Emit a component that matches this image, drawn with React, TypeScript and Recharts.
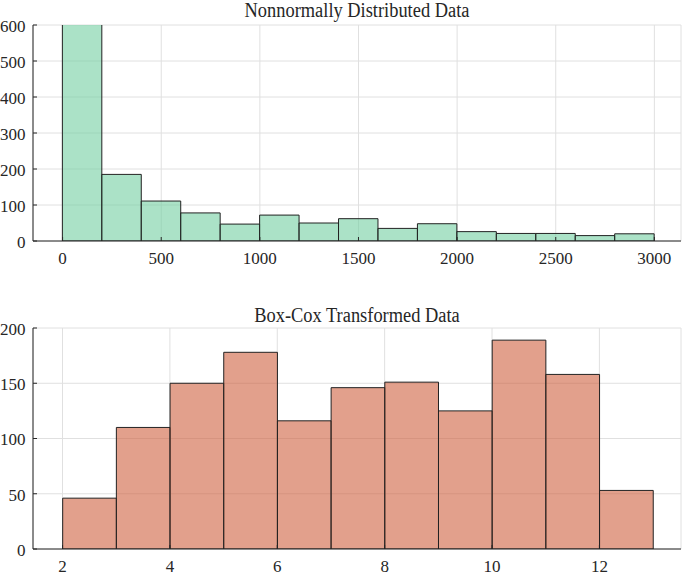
import { BarChart, Bar, XAxis, YAxis, CartesianGrid, Rectangle } from "recharts";

// raw histogram bins (left edge + count)
const rawEdges = [0, 200, 400, 600, 800, 1000, 1200, 1400, 1600, 1800, 2000, 2200, 2400, 2600, 2800];
const rawCounts = [640, 185, 111, 78, 47, 72, 50, 62, 35, 48, 26, 21, 21, 15, 20];
const rawTicksX = [0, 500, 1000, 1500, 2000, 2500, 3000];
const rawTicksY = [0, 100, 200, 300, 400, 500, 600];

const bcEdges = [2, 3, 4, 5, 6, 7, 8, 9, 10, 11, 12];
const bcCounts = [46, 110, 150, 178, 116, 146, 151, 125, 189, 158, 53];
const bcTicksX = [2, 4, 6, 8, 10, 12];
const bcTicksY = [0, 50, 100, 150, 200];

const rawData = rawEdges.map((e, i) => ({ mid: e + 100, count: rawCounts[i] }));
const bcData = bcEdges.map((e, i) => ({ mid: e + 0.5, count: bcCounts[i] }));

const FONT = '"Liberation Serif", "Times New Roman", serif';
const INK = "#262626";
const PLOT_W = 648;
const txt = { fontFamily: FONT, fontSize: 17, fill: INK };

const XTick = ({ x, y, payload }: any) => (
  <text x={x} y={y} dy="0.71em" textAnchor="middle" style={txt}>{payload.value}</text>
);
const YTick = ({ x, y, payload }: any) => (
  <text x={x} y={y + 1} dy="0.35em" textAnchor="end" style={txt}>{payload.value}</text>
);

function Hist({ data, domainX, binW, ticksX, ticksY, domainY, fill, title, top, height, marginTop, xHeight, titleTop }: any) {
  const barSize = (binW * PLOT_W) / (domainX[1] - domainX[0]);
  const shape = (p: any) => (
    <Rectangle {...p} x={p.x + p.width / 2 - barSize / 2} width={barSize} />
  );
  return (
    <div style={{ position: "absolute", left: 0, top, width: 685, height, fontFamily: FONT }}>
      <BarChart width={685} height={height} data={data} margin={{ top: marginTop, right: 4, left: 0, bottom: 0 }}
        barGap={0} barCategoryGap={0}>
        <CartesianGrid stroke="#e0e0e0" />
        <XAxis dataKey="mid" type="number" domain={domainX} ticks={ticksX} allowDataOverflow height={xHeight}
          tick={<XTick />} tickSize={-4} tickMargin={15} stroke={INK} interval={0} />
        <XAxis xAxisId="top" orientation="top" type="number" domain={domainX} ticks={ticksX} allowDataOverflow height={0}
          tickFormatter={() => ""} tickSize={-4} stroke={INK} />
        <YAxis type="number" domain={domainY} ticks={ticksY} allowDataOverflow width={33}
          tick={<YTick />} tickSize={-4} tickMargin={11.5} stroke={INK} interval={0} />
        <YAxis yAxisId="r" orientation="right" type="number" domain={domainY} ticks={ticksY} width={0}
          tickFormatter={() => ""} tickSize={-4} stroke={INK} />
        <Bar dataKey="count" fill={fill} fillOpacity={0.6} stroke="#222" strokeWidth={1} shape={shape} isAnimationActive={false} />
      </BarChart>
      <div style={{ position: "absolute", left: 33, width: PLOT_W, top: titleTop, textAlign: "center", fontSize: 20, lineHeight: "20px",
        color: INK, transform: "scaleX(0.92)", transformOrigin: "center", whiteSpace: "nowrap" }}>
        {title}
      </div>
    </div>
  );
}

export default function App() {
  return (
    <div style={{ position: "absolute", left: 0, top: 0, width: 685, height: 575, background: "#fff" }}>
      <Hist data={rawData} domainX={[-150, 3135]} binW={200} ticksX={rawTicksX} ticksY={rawTicksY} domainY={[0, 600]}
        fill="#73CFA2" title="Nonnormally Distributed Data" top={0} height={285} marginTop={25} xHeight={44} titleTop={0} />
      <Hist data={bcData} domainX={[1.45, 13.52]} binW={1} ticksX={bcTicksX} ticksY={bcTicksY} domainY={[0, 200]}
        fill="#CF613F" title="Box-Cox Transformed Data" top={290} height={285} marginTop={38} xHeight={26} titleTop={15} />
    </div>
  );
}
